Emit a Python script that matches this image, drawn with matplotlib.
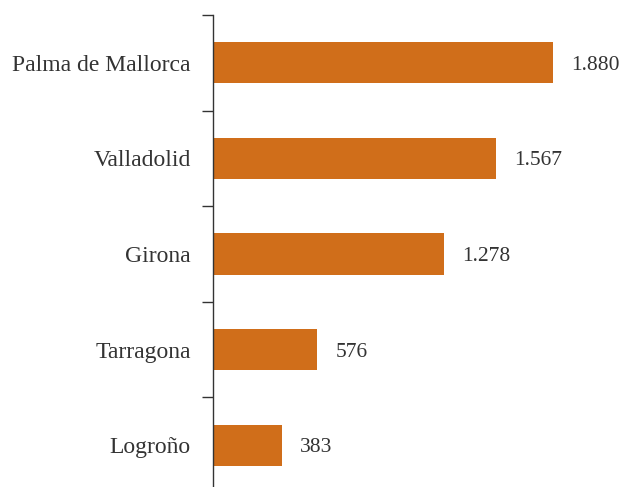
import matplotlib
matplotlib.use('Agg')
from matplotlib import pyplot as plt

ciudades = ['Palma de Mallorca', 'Valladolid', 'Girona', 'Tarragona', 'Logroño']
valores = [1880, 1567, 1278, 576, 383]
etiquetas = ['1.880', '1.567', '1.278', '576', '383']

plt.rcParams['font.family'] = ['Liberation Serif', 'DejaVu Serif']

fig = plt.figure(figsize=(6.21, 4.87), dpi=100)
# eje: x de 213 px a la derecha, y de 15 px hasta un poco por debajo del borde
ax = fig.add_axes([213 / 621, -6 / 487, 408 / 621, 478 / 487])

pos = list(range(len(ciudades)))
ax.barh(pos, valores, height=0.43, color='#D06E1A')
ax.set_ylim(len(ciudades) - 0.5, -0.5)
ax.set_xlim(0, 408 / 0.1809)

for p, v, t in zip(pos, valores, etiquetas):
    ax.text(v + 100, p, t, va='center_baseline', ha='left', fontsize=15.5, color='#333333')

# ticks en los limites entre categorias, etiquetas en el centro
ax.set_yticks([p - 0.5 for p in pos])
ax.set_yticklabels([])
ax.tick_params(axis='y', which='major', length=8, width=1, color='#333333', direction='out')
ax.set_yticks(pos, minor=True)
ax.set_yticklabels(ciudades, minor=True, fontsize=17, color='#333333')
ax.tick_params(axis='y', which='minor', length=0, pad=16)

ax.set_xticks([])
for lado in ['top', 'right', 'bottom']:
    ax.spines[lado].set_visible(False)
ax.spines['left'].set_color('#333333')
ax.spines['left'].set_linewidth(1)

fig.savefig('out.png', dpi=100)
